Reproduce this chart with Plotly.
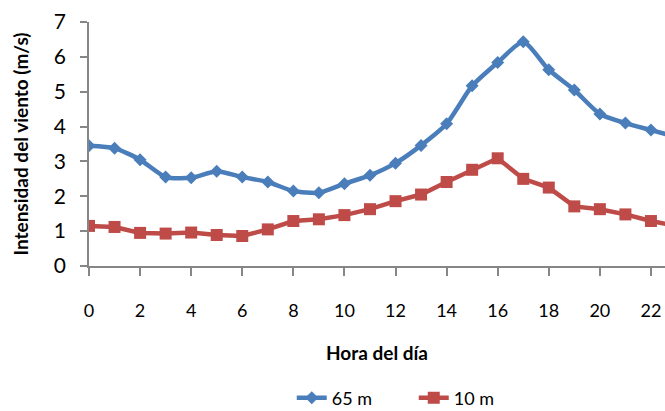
import plotly.graph_objects as go

hours = list(range(24))
wind_65m = [3.45, 3.38, 3.05, 2.55, 2.53, 2.72, 2.55, 2.41, 2.15, 2.10, 2.36, 2.60,
            2.95, 3.46, 4.08, 5.17, 5.84, 6.43, 5.63, 5.05, 4.36, 4.10, 3.90, 3.70]
wind_10m = [1.15, 1.12, 0.95, 0.93, 0.96, 0.89, 0.86, 1.05, 1.29, 1.34, 1.46, 1.63,
            1.86, 2.05, 2.41, 2.76, 3.09, 2.50, 2.25, 1.71, 1.63, 1.48, 1.29, 1.15]
x_ticks = list(range(0, 24, 2))
y_ticks = list(range(0, 8))

font_family = "Lato, 'Open Sans', sans-serif"

fig = go.Figure()
fig.add_trace(go.Scatter(
    x=hours, y=wind_65m, name="65 m", mode="lines+markers",
    line=dict(color="#4a7ebb", width=4.5, shape="spline", smoothing=0.6),
    marker=dict(symbol="diamond", size=10, color="#4a7ebb"),
))
fig.add_trace(go.Scatter(
    x=hours, y=wind_10m, name="10 m", mode="lines+markers",
    line=dict(color="#be4b48", width=4.5),
    marker=dict(symbol="square", size=12, color="#be4b48"),
))

fig.update_layout(
    width=665, height=411,
    margin=dict(l=89, r=0, t=22, b=145, autoexpand=False),
    paper_bgcolor="white", plot_bgcolor="white",
    font=dict(family=font_family, color="#000000"),
    showlegend=True,
    legend=dict(orientation="h", x=0.352, y=-0.465, xanchor="left", yanchor="top",
                font=dict(size=18, family=font_family),
                entrywidth=77, entrywidthmode="pixels",
                tracegroupgap=0),
    xaxis=dict(
        range=[0, 22.55], tickmode="array", tickvals=x_ticks,
        ticktext=[str(v) for v in x_ticks],
        showgrid=False, zeroline=False,
        showline=True, linecolor="#868686", linewidth=1.5,
        ticks="outside", ticklen=8, tickcolor="#868686", tickwidth=1.5,
        tickfont=dict(size=18, family=font_family),
        ticklabelstandoff=20,
        title=dict(text="<b>Hora del día</b>", font=dict(size=19), standoff=26),
    ),
    yaxis=dict(
        range=[0, 7], tickmode="array", tickvals=y_ticks,
        showgrid=False, zeroline=False,
        showline=True, linecolor="#868686", linewidth=1.5,
        ticks="outside", ticklen=7, tickcolor="#868686", tickwidth=1.5,
        tickfont=dict(size=21, family=font_family),
        ticklabelstandoff=10,
        title=dict(text="<b>Intensidad del viento (m/s)</b>", font=dict(size=19), standoff=20),
    ),
)

fig.write_html("out.html")
